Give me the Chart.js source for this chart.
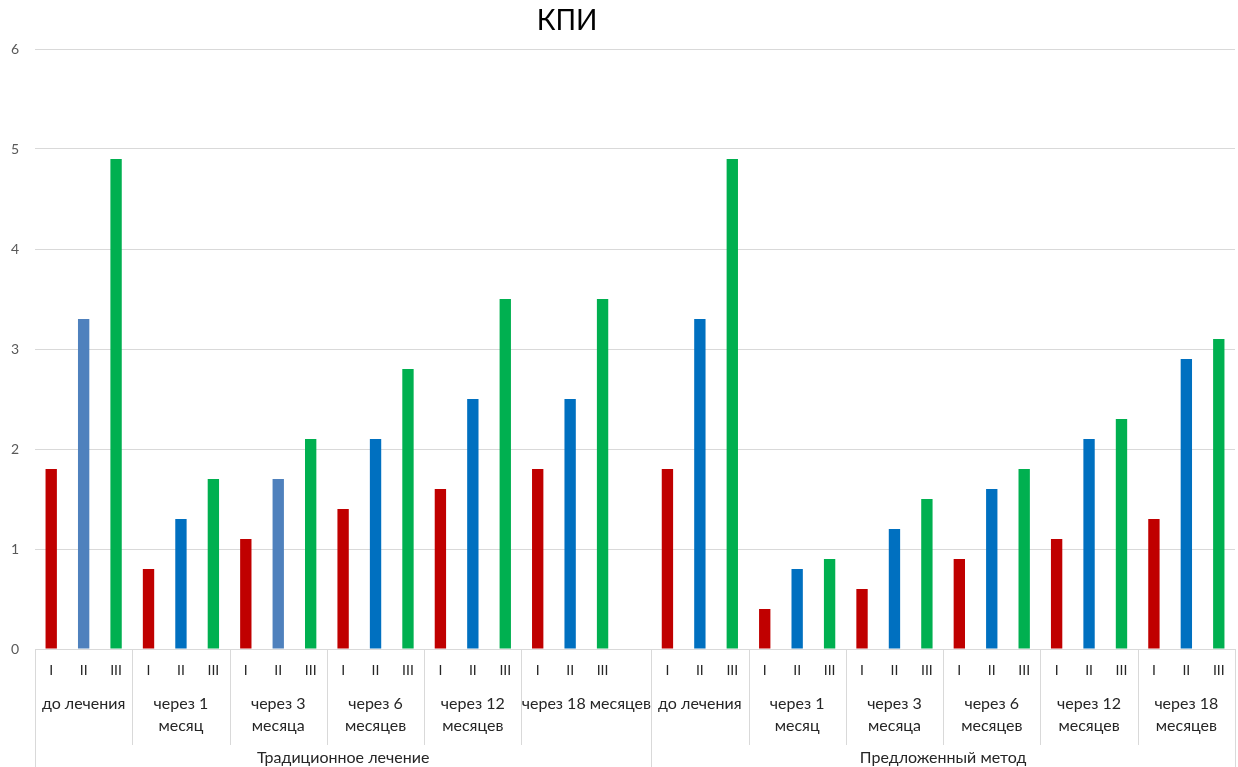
<!DOCTYPE html>
<html>
<head>
<meta charset="utf-8">
<script src="https://cdn.jsdelivr.net/npm/chart.js@4.4.1/dist/chart.umd.min.js"></script>
<style>
  html, body { margin: 0; padding: 0; background: #ffffff; }
  #wrap { width: 1238px; height: 767px; position: relative; }
</style>
</head>
<body>
<div id="wrap"><canvas id="kpi"></canvas></div>
<script>
// ---- data ----
const chartTitle = 'КПИ';
const methods = ['Традиционное лечение', 'Предложенный метод'];
const stages = ['I', 'II', 'III'];
const periodsTraditional = [['до лечения'], ['через 1', 'месяц'], ['через 3', 'месяца'], ['через 6', 'месяцев'], ['через 12', 'месяцев'], ['через 18 месяцев']];
const periodsProposed = [['до лечения'], ['через 1', 'месяц'], ['через 3', 'месяца'], ['через 6', 'месяцев'], ['через 12', 'месяцев'], ['через 18', 'месяцев']];
const traditional = [[1.8, 3.3, 4.9], [0.8, 1.3, 1.7], [1.1, 1.7, 2.1], [1.4, 2.1, 2.8], [1.6, 2.5, 3.5], [1.8, 2.5, 3.5]];
const proposed = [[1.8, 3.3, 4.9], [0.4, 0.8, 0.9], [0.6, 1.2, 1.5], [0.9, 1.6, 1.8], [1.1, 2.1, 2.3], [1.3, 2.9, 3.1]];
const yTicks = [0, 1, 2, 3, 4, 5, 6];
// the last traditional period keeps one empty slot after its bars
const trailingBlankSlots = [1, 0];

// ---- style ----
const stageColors = ['#C00000', '#0070C0', '#00B050'];
const mutedBlue = '#4F81BD';
const mutedBars = [[0, 0, 1], [0, 2, 1]]; // [method, period, stage]
const FONT = 'Lato, "Open Sans", "Liberation Sans", sans-serif';
const gridColor = '#D9D9D9';
const textColor = '#262626';

// ---- flatten the three-level categories ----
const labels = [], values = [], colors = [], periodSpans = [], methodSpans = [];
[[periodsTraditional, traditional], [periodsProposed, proposed]].forEach(([periods, vals], m) => {
  const mStart = labels.length;
  periods.forEach((p, pi) => {
    const pStart = labels.length;
    stages.forEach((s, si) => {
      labels.push(s);
      values.push(vals[pi][si]);
      const muted = mutedBars.some(b => b[0] === m && b[1] === pi && b[2] === si);
      colors.push(muted ? mutedBlue : stageColors[si]);
    });
    if (pi === periods.length - 1) {
      for (let k = 0; k < trailingBlankSlots[m]; k++) { labels.push(''); values.push(null); colors.push('rgba(0,0,0,0)'); }
    }
    periodSpans.push({ start: pStart, end: labels.length - 1, text: p });
  });
  methodSpans.push({ start: mStart, end: labels.length - 1, text: methods[m] });
});

// ---- multi-level category axis + title ----
const groupAxis = {
  id: 'groupAxis',
  afterDraw(chart) {
    const { ctx, scales: { x } } = chart;
    const top = x.top;
    const edge = i => x.getPixelForValue(i - 0.5);
    const mid = s => (x.getPixelForValue(s.start) + x.getPixelForValue(s.end)) / 2;
    ctx.save();
    ctx.strokeStyle = gridColor;
    ctx.lineWidth = 1;
    // period separators
    periodSpans.forEach(s => {
      const px = Math.round(edge(s.start)) + 0.5;
      ctx.beginPath(); ctx.moveTo(px, top); ctx.lineTo(px, top + 96); ctx.stroke();
    });
    // method separators and outer edges
    const methodEdges = methodSpans.map(s => s.start).concat([labels.length]);
    methodEdges.forEach(i => {
      const px = Math.round(edge(i)) + 0.5;
      ctx.beginPath(); ctx.moveTo(px, top); ctx.lineTo(px, chart.height); ctx.stroke();
    });
    ctx.fillStyle = textColor;
    ctx.textAlign = 'center';
    ctx.textBaseline = 'middle';
    ctx.font = '16px ' + FONT;
    periodSpans.forEach(s => {
      s.text.forEach((line, li) => ctx.fillText(line, mid(s), top + 55 + li * 22));
    });
    methodSpans.forEach(s => ctx.fillText(s.text, mid(s), top + 109));
    // title
    ctx.font = '28px ' + FONT;
    ctx.fillStyle = '#000000';
    ctx.fillText(chartTitle, 567, 21);
    ctx.restore();
  }
};

new Chart(document.getElementById('kpi'), {
  type: 'bar',
  data: {
    labels: labels,
    datasets: [{ data: values, backgroundColor: colors, borderWidth: 0, barPercentage: 0.35, categoryPercentage: 1 }]
  },
  options: {
    responsive: true,
    maintainAspectRatio: false,
    animation: false,
    layout: { padding: { top: 49, right: 3, left: 0, bottom: 0 } },
    plugins: { legend: { display: false }, title: { display: false }, tooltip: { enabled: false } },
    scales: {
      x: {
        grid: { display: false, drawTicks: false },
        border: { display: false },
        ticks: { color: textColor, font: { family: FONT, size: 14 }, padding: 13, maxRotation: 0, autoSkip: false },
        afterFit(scale) { scale.height = 118; }
      },
      y: {
        min: 0, max: 6,
        afterBuildTicks(scale) { scale.ticks = yTicks.map(v => ({ value: v })); },
        grid: { color: gridColor, drawTicks: false },
        border: { display: false },
        ticks: { color: '#595959', font: { family: FONT, size: 14 }, padding: 16 },
        afterFit(scale) { scale.width = 35; }
      }
    }
  },
  plugins: [groupAxis]
});
</script>
</body>
</html>
